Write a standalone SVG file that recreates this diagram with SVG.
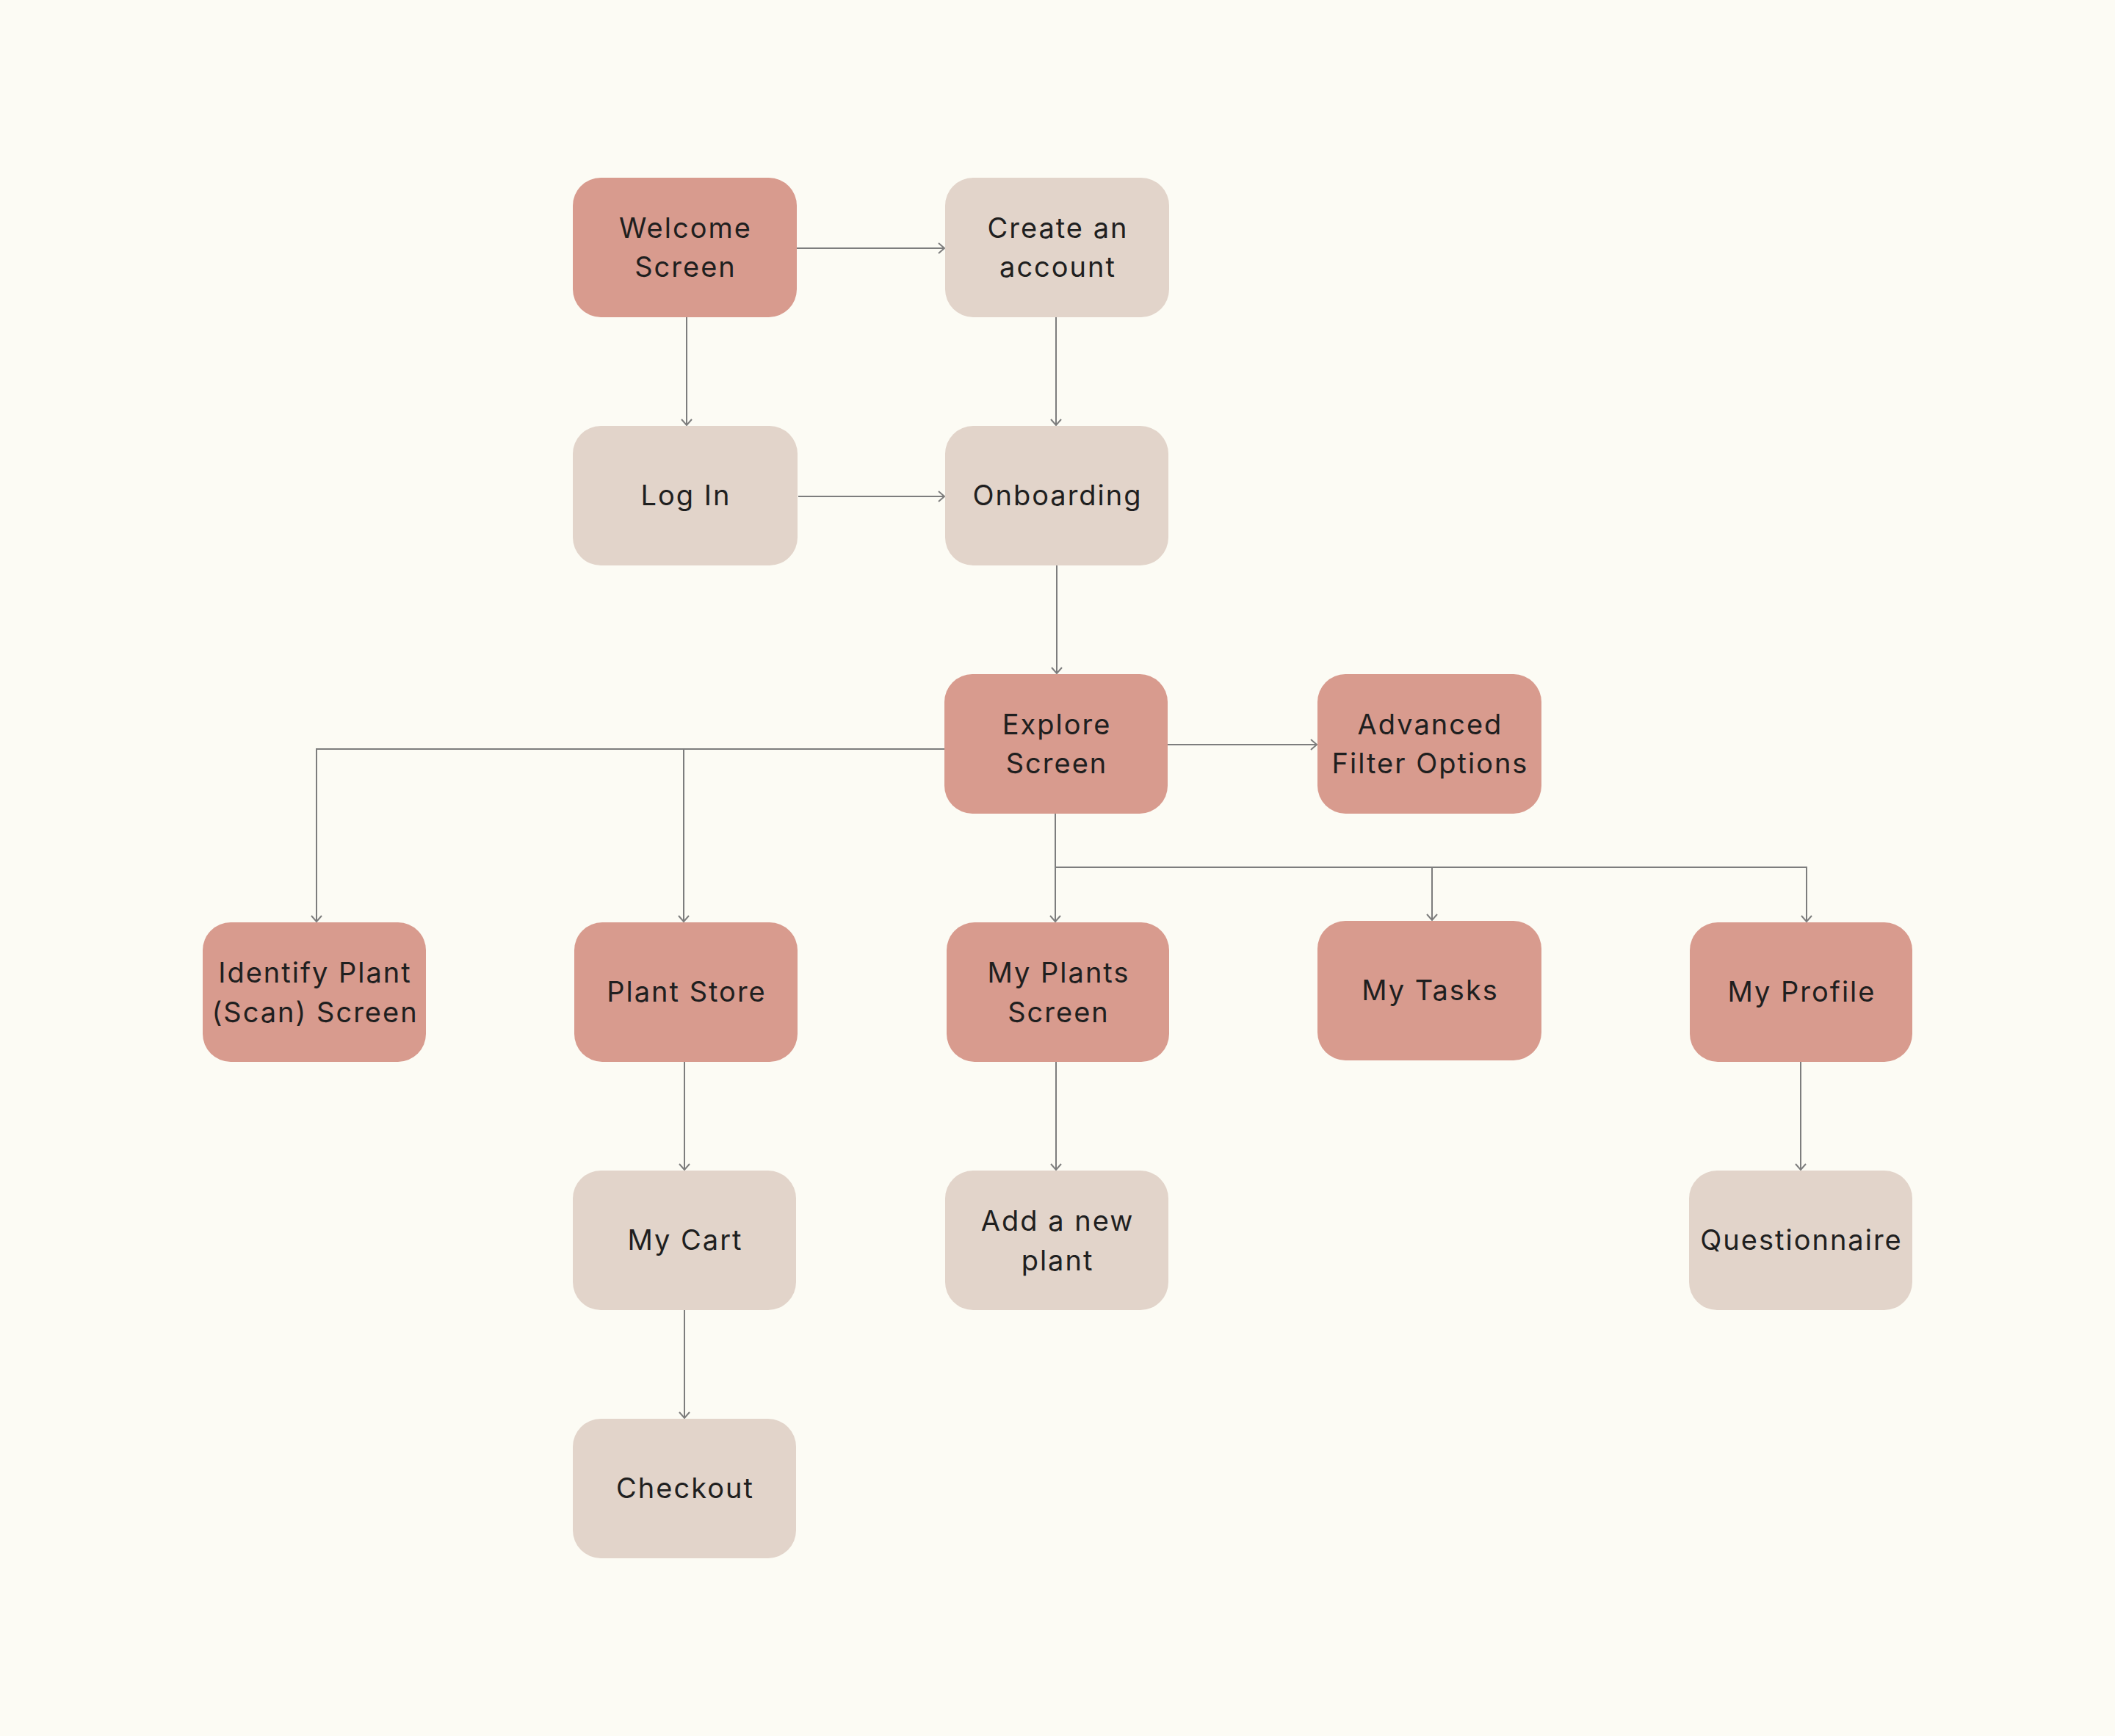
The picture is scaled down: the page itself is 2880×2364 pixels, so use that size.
<svg xmlns="http://www.w3.org/2000/svg" width="2880" height="2364" viewBox="0 0 2880 2364">
<defs>
<style>
.bg{fill:#fcfbf4}
.pk{fill:#d89b8e}
.bj{fill:#e2d4ca}
.t{font-family:Inter,"Noto Sans","Liberation Sans",sans-serif;font-size:38px;letter-spacing:2px;fill:#1f1f1f;text-anchor:middle}
.c{fill:none;stroke:#7d7d7d;stroke-width:2}
</style>
<marker id="ah" viewBox="0 0 16 16" refX="14" refY="8" markerWidth="16" markerHeight="16" markerUnits="userSpaceOnUse" orient="auto">
<path d="M6,1 L14,8 L6,15" fill="none" stroke="#7d7d7d" stroke-width="2"/>
</marker>
</defs>
<rect class="bg" x="0" y="0" width="2880" height="2364"/>
<g id="connectors">
<path class="c" d="M1085,338 H1286" marker-end="url(#ah)"/>
<path class="c" d="M935,432 V579" marker-end="url(#ah)"/>
<path class="c" d="M1438,432 V579" marker-end="url(#ah)"/>
<path class="c" d="M1087,676 H1286" marker-end="url(#ah)"/>
<path class="c" d="M1439,770 V917" marker-end="url(#ah)"/>
<path class="c" d="M1590,1014 H1793" marker-end="url(#ah)"/>
<path class="c" d="M1286,1020 H431 V1255" marker-end="url(#ah)"/>
<path class="c" d="M931,1020 V1255" marker-end="url(#ah)"/>
<path class="c" d="M1437,1108 V1255" marker-end="url(#ah)"/>
<path class="c" d="M1437,1181 H2460 V1255" marker-end="url(#ah)"/>
<path class="c" d="M1950,1181 V1253" marker-end="url(#ah)"/>
<path class="c" d="M932,1446 V1593" marker-end="url(#ah)"/>
<path class="c" d="M932,1784 V1931" marker-end="url(#ah)"/>
<path class="c" d="M1438,1446 V1593" marker-end="url(#ah)"/>
<path class="c" d="M2452,1446 V1593" marker-end="url(#ah)"/>
</g>
<g id="welcome"><rect class="pk" x="780" y="242" width="305" height="190" rx="38"/><text class="t" x="933.5" y="324">Welcome</text><text class="t" x="933.5" y="377">Screen</text></g>
<g id="create"><rect class="bj" x="1287" y="242" width="305" height="190" rx="38"/><text class="t" x="1440.5" y="324">Create an</text><text class="t" x="1440.5" y="377">account</text></g>
<g id="login"><rect class="bj" x="780" y="580" width="306" height="190" rx="38"/><text class="t" x="934" y="688">Log In</text></g>
<g id="onboarding"><rect class="bj" x="1287" y="580" width="304" height="190" rx="38"/><text class="t" x="1440" y="688">Onboarding</text></g>
<g id="explore"><rect class="pk" x="1286" y="918" width="304" height="190" rx="38"/><text class="t" x="1439" y="1000">Explore</text><text class="t" x="1439" y="1053">Screen</text></g>
<g id="advanced"><rect class="pk" x="1794" y="918" width="305" height="190" rx="38"/><text class="t" x="1947.5" y="1000">Advanced</text><text class="t" x="1947.5" y="1053">Filter Options</text></g>
<g id="identify"><rect class="pk" x="276" y="1256" width="304" height="190" rx="38"/><text class="t" x="429" y="1338">Identify Plant</text><text class="t" x="429" y="1392">(Scan) Screen</text></g>
<g id="plantstore"><rect class="pk" x="782" y="1256" width="304" height="190" rx="38"/><text class="t" x="935" y="1364">Plant Store</text></g>
<g id="myplants"><rect class="pk" x="1289" y="1256" width="303" height="190" rx="38"/><text class="t" x="1441.5" y="1338">My Plants</text><text class="t" x="1441.5" y="1392">Screen</text></g>
<g id="mytasks"><rect class="pk" x="1794" y="1254" width="305" height="190" rx="38"/><text class="t" x="1947.5" y="1362">My Tasks</text></g>
<g id="myprofile"><rect class="pk" x="2301" y="1256" width="303" height="190" rx="38"/><text class="t" x="2453.5" y="1364">My Profile</text></g>
<g id="mycart"><rect class="bj" x="780" y="1594" width="304" height="190" rx="38"/><text class="t" x="933" y="1702">My Cart</text></g>
<g id="addplant"><rect class="bj" x="1287" y="1594" width="304" height="190" rx="38"/><text class="t" x="1440" y="1676">Add a new</text><text class="t" x="1440" y="1730">plant</text></g>
<g id="checkout"><rect class="bj" x="780" y="1932" width="304" height="190" rx="38"/><text class="t" x="933" y="2040">Checkout</text></g>
<g id="questionnaire"><rect class="bj" x="2300" y="1594" width="304" height="190" rx="38"/><text class="t" x="2453" y="1702">Questionnaire</text></g>
</svg>
